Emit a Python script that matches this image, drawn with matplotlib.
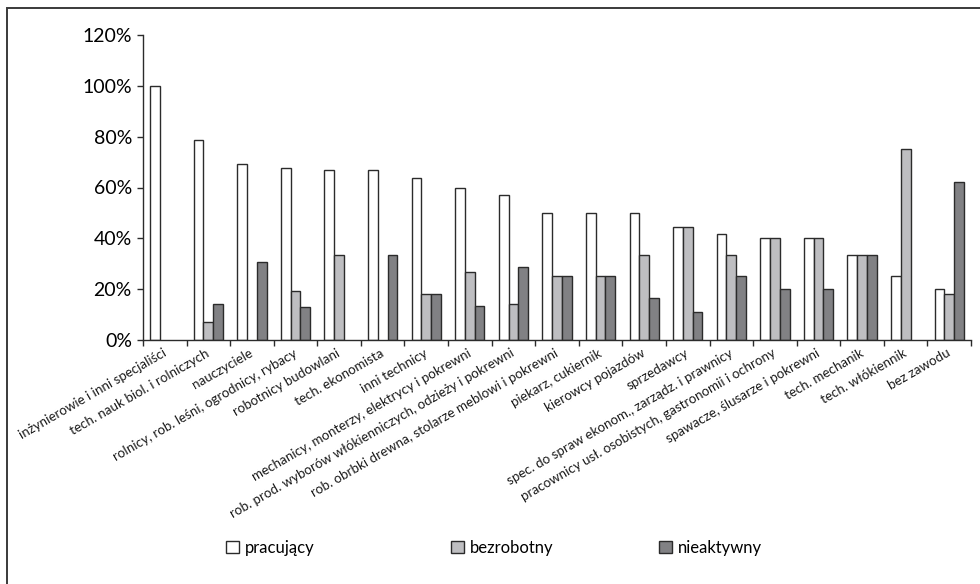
import numpy as np
import matplotlib
matplotlib.use("Agg")
import matplotlib.pyplot as plt
from matplotlib.patches import Rectangle
from matplotlib.ticker import FixedLocator, PercentFormatter

plt.rcParams['font.family'] = ['Lato', 'DejaVu Sans']

# occupations (x axis)
zawody = [
    "inżynierowie i inni specjaliści",
    "tech. nauk biol. i rolniczych",
    "nauczyciele",
    "rolnicy, rob. leśni, ogrodnicy, rybacy",
    "robotnicy budowlani",
    "tech. ekonomista",
    "inni technicy",
    "mechanicy, monterzy, elektrycy i pokrewni",
    "rob. prod. wyborów włókienniczych, odzieży i pokrewni",
    "rob. obrbki drewna, stolarze meblowi i pokrewni",
    "piekarz, cukiernik",
    "kierowcy pojazdów",
    "sprzedawcy",
    "spec. do spraw ekonom., zarządz. i prawnicy",
    "pracownicy usł. osobistych, gastronomii i ochrony",
    "spawacze, ślusarze i pokrewni",
    "tech. mechanik",
    "tech. włókiennik",
    "bez zawodu",
]

# shares in %
pracujacy = [100, 78.6, 69.2, 67.7, 66.7, 66.7, 63.6, 60.0, 57.1, 50, 50, 50,
             44.4, 41.7, 40, 40, 33.3, 25, 20]
bezrobotny = [0, 7.1, 0, 19.4, 33.3, 0, 18.2, 26.7, 14.3, 25, 25, 33.3,
              44.4, 33.3, 40, 40, 33.3, 75, 18]
nieaktywny = [0, 14.3, 30.8, 12.9, 0, 33.3, 18.2, 13.3, 28.6, 25, 25, 16.7,
              11.1, 25, 20, 20, 33.3, 0, 62]

serie = ["pracujący", "bezrobotny", "nieaktywny"]
kolory = ["#ffffff", "#bebec1", "#818184"]

fig = plt.figure(figsize=(9.8, 5.84), dpi=100)
ax = fig.add_axes([143 / 980, 1 - 340 / 584, 828 / 980, 305 / 584])

x = np.arange(len(zawody))
w = 0.224
uchwyty = []
for i, (vals, kol, nazwa) in enumerate(zip([pracujacy, bezrobotny, nieaktywny], kolory, serie)):
    v = np.array(vals, dtype=float)
    b = ax.bar(x + (i - 1) * w, np.where(v > 0, v, np.nan), width=w, color=kol,
               edgecolor="#2b2b2b", linewidth=1.0, label=nazwa)
    uchwyty.append(b)

ax.set_xlim(-0.5, len(zawody) - 0.5)
ax.set_ylim(0, 120)
ax.set_yticks(np.arange(0, 121, 20))
ax.yaxis.set_major_formatter(PercentFormatter(decimals=0))
ax.tick_params(axis="y", labelsize=14, length=4, width=1, color="#2b2b2b", pad=4)

# ticks between categories, labels at category centres
ax.xaxis.set_major_locator(FixedLocator(np.arange(-0.5, len(zawody), 1)))
ax.tick_params(axis="x", length=4, width=1, color="#2b2b2b", labelbottom=False)
for xi, lab in zip(x, zawody):
    ax.annotate(lab, xy=(xi, 0), xycoords=("data", "axes fraction"),
                xytext=(-2, -5), textcoords="offset points",
                rotation=30, rotation_mode="anchor", ha="right", va="top",
                fontsize=9.6, color="#1a1a1a")

for s in ["top", "right"]:
    ax.spines[s].set_visible(False)
for s in ["left", "bottom"]:
    ax.spines[s].set_color("#2b2b2b")
    ax.spines[s].set_linewidth(1.0)

# legend entries placed one by one along the bottom
for h, nazwa, lx in zip(uchwyty, serie, [226, 451, 659]):
    fig.legend(handles=[h], labels=[nazwa], loc="center left",
               bbox_to_anchor=(lx / 980, 1 - 548 / 584), borderaxespad=0, borderpad=0,
               frameon=False, fontsize=12, handlelength=0.75, handleheight=0.75,
               handletextpad=0.4)

# outer frame
fig.patches.append(Rectangle((7 / 980, -0.2), 1.5, 1.2 - 8 / 584, transform=fig.transFigure,
                             fill=False, edgecolor="#3a3a3a", linewidth=1.4))

fig.savefig("out.png", dpi=100)
